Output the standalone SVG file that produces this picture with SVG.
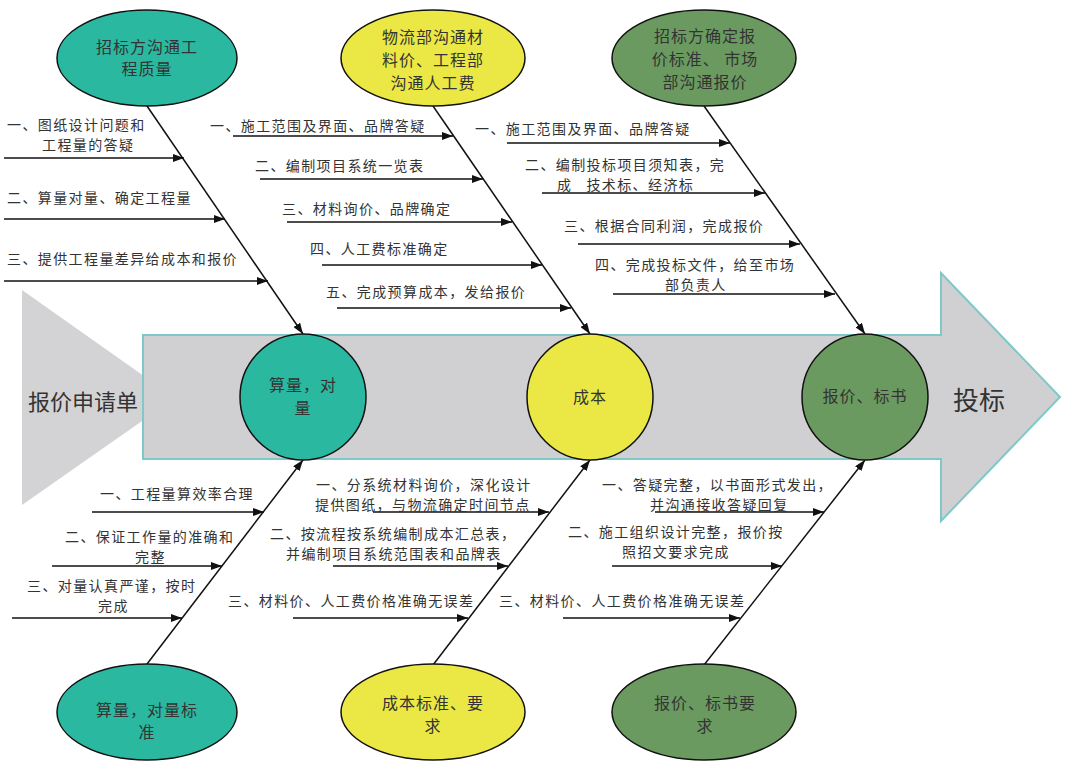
<svg xmlns="http://www.w3.org/2000/svg" width="1074" height="768" viewBox="0 0 1074 768">
<defs>
<style>
.b{font-family:"Noto Sans CJK SC","Liberation Serif",sans-serif;font-size:14px;fill:#333;letter-spacing:1.4px;dominant-baseline:central}
.e{font-family:"Noto Sans CJK SC","Liberation Sans",sans-serif;font-size:16px;fill:#333;letter-spacing:1px;text-anchor:middle;dominant-baseline:central}
.big{font-family:"Noto Sans CJK SC","Liberation Sans",sans-serif;fill:#333;dominant-baseline:central}
.teal{fill:#2bb8a0;stroke:#111;stroke-width:1.5}
.yel{fill:#ebe845;stroke:#111;stroke-width:1.5}
.grn{fill:#6b9a60;stroke:#111;stroke-width:1.5}
.ln{stroke:#111;stroke-width:1.5;fill:none;marker-end:url(#arr)}
</style>
<marker id="arr" viewBox="0 0 11 8" refX="11" refY="4" markerWidth="11" markerHeight="8" orient="auto" markerUnits="userSpaceOnUse">
<path d="M0,0 L11,4 L0,8 z" fill="#111"/>
</marker>
</defs>
<rect width="1074" height="768" fill="#fff"/>
<g id="spine">
<polygon points="22,290 22,505 175,398" fill="#d3d3d5"/>
<polygon points="143,335 941,335 941,273 1060,397 941,521 941,459 143,459" fill="#d0d0d3" stroke="#7ec8c8" stroke-width="2"/>
<text class="big" x="28" y="400" font-size="22">报价申请单</text>
<text class="big" x="953" y="398" font-size="26">投标</text>
</g>
<g id="connectors">
<line class="ln" x1="147" y1="106" x2="303" y2="334"/>
<line class="ln" x1="433" y1="106" x2="590" y2="334"/>
<line class="ln" x1="704" y1="106" x2="865" y2="334"/>
<line class="ln" x1="147" y1="664" x2="303" y2="460"/>
<line class="ln" x1="433" y1="665" x2="590" y2="460"/>
<line class="ln" x1="704" y1="665" x2="865" y2="460"/>
<line class="ln" x1="4" y1="158" x2="184" y2="158"/>
<line class="ln" x1="4" y1="219" x2="225" y2="219"/>
<line class="ln" x1="4" y1="281" x2="268" y2="281"/>
<line class="ln" x1="233" y1="136" x2="453" y2="136"/>
<line class="ln" x1="260" y1="179" x2="483" y2="179"/>
<line class="ln" x1="287" y1="222" x2="512" y2="222"/>
<line class="ln" x1="322" y1="265" x2="542" y2="265"/>
<line class="ln" x1="337" y1="308" x2="571" y2="308"/>
<line class="ln" x1="507" y1="143" x2="730" y2="143"/>
<line class="ln" x1="542" y1="193" x2="765" y2="193"/>
<line class="ln" x1="578" y1="244" x2="800" y2="244"/>
<line class="ln" x1="613" y1="294" x2="835" y2="294"/>
<line class="ln" x1="92" y1="512" x2="264" y2="512"/>
<line class="ln" x1="52" y1="566" x2="222" y2="566"/>
<line class="ln" x1="12" y1="618" x2="182" y2="618"/>
<line class="ln" x1="373" y1="512" x2="549" y2="512"/>
<line class="ln" x1="333" y1="566" x2="508" y2="566"/>
<line class="ln" x1="293" y1="618" x2="468" y2="618"/>
<line class="ln" x1="655" y1="512" x2="824" y2="512"/>
<line class="ln" x1="612" y1="566" x2="782" y2="566"/>
<line class="ln" x1="563" y1="618" x2="740" y2="618"/>
</g>
<g id="labels">
<text class="b" x="7" y="124">一、图纸设计问题和</text>
<text class="b" x="42" y="144">工程量的答疑</text>
<text class="b" x="7" y="197">二、算量对量、确定工程量</text>
<text class="b" x="7" y="258">三、提供工程量差异给成本和报价</text>
<text class="b" x="210" y="125">一、施工范围及界面、品牌答疑</text>
<text class="b" x="255" y="165">二、编制项目系统一览表</text>
<text class="b" x="282" y="208">三、材料询价、品牌确定</text>
<text class="b" x="310" y="248">四、人工费标准确定</text>
<text class="b" x="326" y="291">五、完成预算成本，发给报价</text>
<text class="b" x="475" y="128">一、施工范围及界面、品牌答疑</text>
<text class="b" x="525" y="164">二、编制投标项目须知表，完</text>
<text class="b" x="557" y="184">成<tspan dx="14">技术标、经济标</tspan></text>
<text class="b" x="564" y="225">三、根据合同利润，完成报价</text>
<text class="b" x="595" y="264">四、完成投标文件，给至市场</text>
<text class="b" x="665" y="284">部负责人</text>
<text class="b" x="100" y="493">一、工程量算效率合理</text>
<text class="b" x="65" y="536">二、保证工作量的准确和</text>
<text class="b" x="135" y="556">完整</text>
<text class="b" x="27" y="585">三、对量认真严谨，按时</text>
<text class="b" x="98" y="605">完成</text>
<text class="b" x="316" y="484">一、分系统材料询价，深化设计</text>
<text class="b" x="315" y="504">提供图纸，与物流确定时间节点</text>
<text class="b" x="270" y="533">二、按流程按系统编制成本汇总表，</text>
<text class="b" x="286" y="553">并编制项目系统范围表和品牌表</text>
<text class="b" x="228" y="600">三、材料价、人工费价格准确无误差</text>
<text class="b" x="602" y="484">一、答疑完整，以书面形式发出，</text>
<text class="b" x="650" y="504">并沟通接收答疑回复</text>
<text class="b" x="568" y="531">二、施工组织设计完整，报价按</text>
<text class="b" x="622" y="551">照招文要求完成</text>
<text class="b" x="499" y="600">三、材料价、人工费价格准确无误差</text>
</g>
<g id="n-top1"><ellipse class="teal" cx="147" cy="58" rx="90" ry="48"/><text class="e" x="147" y="46">招标方沟通工</text><text class="e" x="147" y="68">程质量</text></g>
<g id="n-top2"><ellipse class="yel" cx="433" cy="58" rx="92" ry="48"/><text class="e" x="433" y="36">物流部沟通材</text><text class="e" x="433" y="59">料价、工程部</text><text class="e" x="433" y="82">沟通人工费</text></g>
<g id="n-top3"><ellipse class="grn" cx="704" cy="58" rx="92" ry="48"/><text class="e" x="705" y="35">招标方确定报</text><text class="e" x="705" y="58">价标准、 市场</text><text class="e" x="705" y="81">部沟通报价</text></g>
<g id="n-c1"><circle class="teal" cx="303" cy="397" r="63"/><text class="e" x="303" y="384">算量，对</text><text class="e" x="303" y="407">量</text></g>
<g id="n-c2"><circle class="yel" cx="590" cy="397" r="63"/><text class="e" x="590" y="396">成本</text></g>
<g id="n-c3"><circle class="grn" cx="865" cy="397" r="63"/><text class="e" x="865" y="395">报价、标书</text></g>
<g id="n-bot1"><ellipse class="teal" cx="147" cy="712" rx="90" ry="48"/><text class="e" x="147" y="709">算量，对量标</text><text class="e" x="147" y="731">准</text></g>
<g id="n-bot2"><ellipse class="yel" cx="433" cy="712" rx="92" ry="48"/><text class="e" x="433" y="702">成本标准、要</text><text class="e" x="433" y="725">求</text></g>
<g id="n-bot3"><ellipse class="grn" cx="704" cy="712" rx="92" ry="48"/><text class="e" x="705" y="702">报价、标书要</text><text class="e" x="705" y="725">求</text></g>
</svg>
